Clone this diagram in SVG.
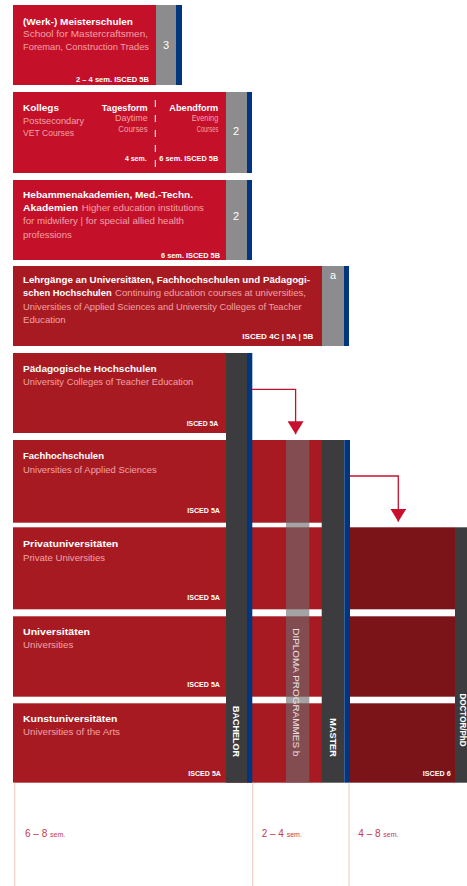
<svg xmlns="http://www.w3.org/2000/svg" width="467" height="886" viewBox="0 0 467 886">
<style>
text{font-family:"Liberation Sans",Arial,sans-serif;}
.t{font-size:9.8px;font-weight:bold;fill:#ffffff;}
.s{font-size:9.8px;fill:#f2a2a6;}
.sm{font-size:7px;font-weight:bold;fill:#ffffff;}
.num{font-size:11px;fill:#ffffff;}
.bar{font-size:8.5px;font-weight:bold;fill:#ffffff;}
.lab{font-size:10px;fill:#c4394d;}
.red1{fill:#c5102a;}
.red2{fill:#a81a22;}
.red3{fill:#7a1419;}
.gray{fill:#8c8c8e;}
.dark{fill:#3c3c3e;}
.blue{fill:#003580;}
.conn{fill:none;stroke:#c8102e;stroke-width:1.3;}
.vline{stroke:#f0c8bc;stroke-width:1;}
</style>
<defs>
<marker id="arrow" markerUnits="userSpaceOnUse" markerWidth="14" markerHeight="16" refX="13" refY="8" orient="auto">
<path d="M0,0 L13,8 L0,16 z" fill="#c8102e"/>
</marker>
</defs>
<rect width="467" height="886" fill="#ffffff"/>

<g id="meisterschulen">
<rect class="red1" x="13" y="5" width="143" height="80"/>
<rect class="gray" x="156" y="5" width="20" height="80"/>
<rect class="blue" x="176" y="5" width="6" height="80"/>
<text class="t" x="23" y="25" textLength="110" lengthAdjust="spacingAndGlyphs">(Werk-) Meisterschulen</text>
<text class="s" x="23" y="37" textLength="125" lengthAdjust="spacingAndGlyphs">School for Mastercraftsmen,</text>
<text class="s" x="23" y="50" textLength="126" lengthAdjust="spacingAndGlyphs">Foreman, Construction Trades</text>
<text class="sm" x="76" y="81.5" textLength="73" lengthAdjust="spacingAndGlyphs">2 – 4 sem.  ISCED 5B</text>
<text class="num" x="166" y="49" text-anchor="middle">3</text>
</g>

<g id="kollegs">
<rect class="red1" x="13" y="92" width="213" height="81"/>
<rect class="gray" x="226" y="92" width="21" height="81"/>
<rect class="blue" x="247" y="92" width="5" height="81"/>
<text class="t" x="23" y="110.7" textLength="36" lengthAdjust="spacingAndGlyphs">Kollegs</text>
<text class="s" x="23" y="124" textLength="61" lengthAdjust="spacingAndGlyphs">Postsecondary</text>
<text class="s" x="23" y="136.3" textLength="51" lengthAdjust="spacingAndGlyphs">VET Courses</text>
<text class="t" x="101.7" y="110.7" textLength="46" lengthAdjust="spacingAndGlyphs">Tagesform</text>
<text class="s" x="115" y="121.3" textLength="32.7" lengthAdjust="spacingAndGlyphs">Daytime</text>
<text class="s" x="118.3" y="132.3" textLength="29.4" lengthAdjust="spacingAndGlyphs">Courses</text>
<text class="t" x="169.3" y="110.7" textLength="49" lengthAdjust="spacingAndGlyphs">Abendform</text>
<text class="s" x="191.7" y="121.3" textLength="26.6" lengthAdjust="spacingAndGlyphs">Evening</text>
<text class="s" x="196.7" y="132.3" textLength="21.6" lengthAdjust="spacingAndGlyphs">Courses</text>
<line x1="155.3" y1="100" x2="155.3" y2="171" stroke="#ffffff" stroke-width="1" stroke-dasharray="7 8"/>
<text class="sm" x="146.7" y="160.7" text-anchor="end">4 sem.</text>
<text class="sm" x="159.3" y="160.7" textLength="59" lengthAdjust="spacingAndGlyphs">6 sem.  ISCED 5B</text>
<text class="num" x="236" y="134.5" text-anchor="middle">2</text>
</g>

<g id="hebammenakademien">
<rect class="red1" x="13" y="180" width="213" height="80"/>
<rect class="gray" x="226" y="180" width="21" height="80"/>
<rect class="blue" x="247" y="180" width="5" height="80"/>
<text class="t" x="23" y="197.7" textLength="170" lengthAdjust="spacingAndGlyphs">Hebammenakademien, Med.-Techn.</text>
<text class="t" x="23" y="210.7" textLength="55" lengthAdjust="spacingAndGlyphs">Akademien</text>
<text class="s" x="81.7" y="210.7" textLength="122.3" lengthAdjust="spacingAndGlyphs">Higher education institutions</text>
<text class="s" x="23" y="224.3" textLength="161" lengthAdjust="spacingAndGlyphs">for midwifery | for special allied health</text>
<text class="s" x="23" y="237.7" textLength="48.7" lengthAdjust="spacingAndGlyphs">professions</text>
<text class="sm" x="161" y="257.7" textLength="59" lengthAdjust="spacingAndGlyphs">6 sem.  ISCED 5B</text>
<text class="num" x="236" y="220" text-anchor="middle">2</text>
</g>

<g id="lehrgaenge">
<rect class="red2" x="13" y="266" width="309" height="80"/>
<rect class="gray" x="322" y="266" width="22" height="80"/>
<rect class="blue" x="344" y="266" width="5" height="80"/>
<text class="t" x="23" y="282.7" textLength="287" lengthAdjust="spacingAndGlyphs">Lehrgänge an Universitäten, Fachhochschulen und Pädagogi-</text>
<text class="t" x="23" y="296" textLength="88.7" lengthAdjust="spacingAndGlyphs">schen Hochschulen</text>
<text class="s" x="115" y="296" textLength="191" lengthAdjust="spacingAndGlyphs">Continuing education courses at universities,</text>
<text class="s" x="23" y="310" textLength="278.7" lengthAdjust="spacingAndGlyphs">Universities of Applied Sciences and University Colleges of Teacher</text>
<text class="s" x="23" y="323.3" textLength="42.7" lengthAdjust="spacingAndGlyphs">Education</text>
<text class="sm" x="242.3" y="339" textLength="71" lengthAdjust="spacingAndGlyphs">ISCED 4C  |  5A  |  5B</text>
<text class="num" x="333" y="279" text-anchor="middle">a</text>
</g>

<g id="paedagogische-hochschulen">
<rect class="red2" x="13" y="353" width="213" height="80"/>
<text class="t" x="23" y="371.5" textLength="133.7" lengthAdjust="spacingAndGlyphs">Pädagogische Hochschulen</text>
<text class="s" x="23" y="385.3" textLength="170.3" lengthAdjust="spacingAndGlyphs">University Colleges of Teacher Education</text>
<text class="sm" x="186.7" y="425.5" textLength="31.6" lengthAdjust="spacingAndGlyphs">ISCED 5A</text>
</g>

<g id="fachhochschulen">
<rect class="red2" x="13" y="440" width="309" height="82.7"/>
<text class="t" x="23" y="458.5" textLength="81" lengthAdjust="spacingAndGlyphs">Fachhochschulen</text>
<text class="s" x="23" y="473" textLength="133.7" lengthAdjust="spacingAndGlyphs">Universities of Applied Sciences</text>
<text class="sm" x="187.3" y="513.3" textLength="32.7" lengthAdjust="spacingAndGlyphs">ISCED 5A</text>
</g>

<g id="privatuniversitaeten">
<rect class="red2" x="13" y="527.3" width="309" height="82"/>
<rect class="red3" x="350" y="527.3" width="105" height="82"/>
<text class="t" x="23" y="547" textLength="95.3" lengthAdjust="spacingAndGlyphs">Privatuniversitäten</text>
<text class="s" x="23" y="560.7" textLength="82" lengthAdjust="spacingAndGlyphs">Private Universities</text>
<text class="sm" x="187.3" y="600.3" textLength="32.7" lengthAdjust="spacingAndGlyphs">ISCED 5A</text>
</g>

<g id="universitaeten">
<rect class="red2" x="13" y="616.3" width="309" height="80.4"/>
<rect class="red3" x="350" y="616.3" width="105" height="80.4"/>
<text class="t" x="23" y="634.5" textLength="67" lengthAdjust="spacingAndGlyphs">Universitäten</text>
<text class="s" x="23" y="647.8" textLength="50.3" lengthAdjust="spacingAndGlyphs">Universities</text>
<text class="sm" x="187.3" y="687" textLength="32.7" lengthAdjust="spacingAndGlyphs">ISCED 5A</text>
</g>

<g id="kunstuniversitaeten">
<rect class="red2" x="13" y="703.3" width="309" height="79.4"/>
<rect class="red3" x="350" y="703.3" width="105" height="79.4"/>
<text class="t" x="23" y="721.7" textLength="94.3" lengthAdjust="spacingAndGlyphs">Kunstuniversitäten</text>
<text class="s" x="23" y="735" textLength="97" lengthAdjust="spacingAndGlyphs">Universities of the Arts</text>
<text class="sm" x="188.3" y="776" textLength="32.7" lengthAdjust="spacingAndGlyphs">ISCED 5A</text>
<text class="sm" x="422.7" y="775.5" textLength="28" lengthAdjust="spacingAndGlyphs">ISCED 6</text>
</g>

<g id="bachelor">
<rect class="dark" x="226" y="353" width="21" height="429.7"/>
<rect class="blue" x="247" y="353" width="5.3" height="429.7"/>
<text class="bar" transform="translate(233,706) rotate(90)" textLength="51" lengthAdjust="spacingAndGlyphs">BACHELOR</text>
</g>

<g id="diploma">
<rect x="286" y="440" width="23.3" height="342.7" fill="#6c6c6c" fill-opacity="0.62"/>
<text transform="translate(292.8,628.3) rotate(90)" font-size="9" fill="#ece2e2" textLength="128" lengthAdjust="spacingAndGlyphs">DIPLOMA  PROGRAMMES  b</text>
</g>

<g id="master">
<rect class="dark" x="321.7" y="440" width="22.6" height="342.7"/>
<rect class="blue" x="344.3" y="440" width="5.7" height="342.7"/>
<text class="bar" transform="translate(330,718.3) rotate(90)" textLength="38.4" lengthAdjust="spacingAndGlyphs">MASTER</text>
</g>

<g id="doctor">
<rect class="dark" x="455" y="527.3" width="12" height="255.4"/>
<text class="bar" transform="translate(459.5,693.5) rotate(90)" textLength="53" lengthAdjust="spacingAndGlyphs">DOCTOR/PhD</text>
</g>

<g id="connectors">
<path class="conn" d="M252,389.3 H295.6 V434.3" marker-end="url(#arrow)"/>
<path class="conn" d="M350,476 H398.3 V521.7" marker-end="url(#arrow)"/>
</g>

<g id="duration">
<line class="vline" x1="14.8" y1="782.7" x2="14.8" y2="886"/>
<line class="vline" x1="252.7" y1="782.7" x2="252.7" y2="886"/>
<line class="vline" x1="349" y1="782.7" x2="349" y2="886"/>
<text class="lab" x="25" y="837">6 – 8 <tspan font-size="7">sem.</tspan></text>
<text class="lab" x="261.7" y="837">2 – 4 <tspan font-size="7">sem.</tspan></text>
<text class="lab" x="358.3" y="837">4 – 8 <tspan font-size="7">sem.</tspan></text>
</g>
</svg>
